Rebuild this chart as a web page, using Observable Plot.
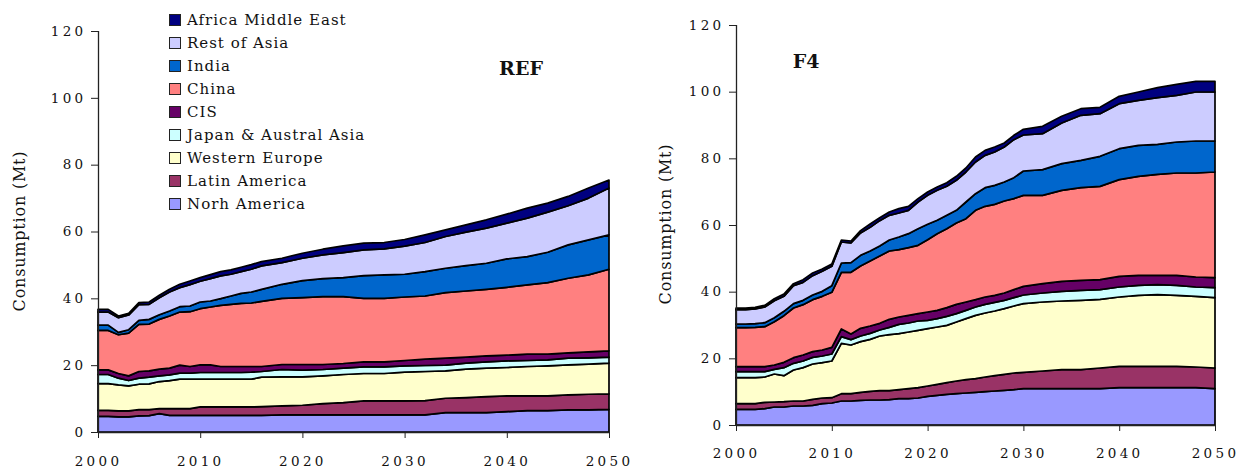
<!DOCTYPE html>
<html><head><meta charset="utf-8">
<script src="https://cdn.jsdelivr.net/npm/d3@7"></script>
<script src="https://cdn.jsdelivr.net/npm/@observablehq/plot@0.6"></script>
<style>
body{margin:0;background:#fff;width:1250px;height:471px;position:relative;overflow:hidden;font-family:"DejaVu Serif",serif;color:#111;}
.panel{position:absolute;top:0;}
.panel svg{overflow:visible;}
.ylab{position:absolute;white-space:nowrap;font-size:16px;letter-spacing:0.8px;transform:translate(-50%,-50%) rotate(-90deg);}
.title{position:absolute;font-weight:bold;font-size:19px;transform:translateX(-50%);}
#legend{position:absolute;left:169px;top:9px;font-size:15px;letter-spacing:1px;}
.row{height:22.9px;display:flex;align-items:center;white-space:nowrap;}
.sw{width:10px;height:10px;border:1px solid #222;margin-right:6px;}
g[aria-label$="tick label"] text{letter-spacing:3.3px;fill:#111;}
</style></head><body>
<div id="left" class="panel" style="left:0"></div>
<div id="right" class="panel" style="left:625px"></div>
<div class="ylab" style="left:19px;top:231px">Consumption (Mt)</div>
<div class="ylab" style="left:665px;top:224px">Consumption (Mt)</div>
<div class="title" style="left:521px;top:57px">REF</div>
<div class="title" style="left:806px;top:50px">F4</div>
<div id="legend"></div>
<script>
const seriesNames = ["Norh America","Latin America","Western Europe","Japan & Austral Asia","CIS","China","India","Rest of Asia","Africa Middle East"];
const seriesColors = ["#9999FF","#993366","#FFFFCC","#CCFFFF","#660066","#FF8080","#0066CC","#CCCCFF","#000080"];
const xTicks = [2000,2010,2020,2030,2040,2050];
const yTicks = [0,20,40,60,80,100,120];

// REF scenario
const refYears = [2000,2001,2002,2003,2004,2005,2006,2007,2008,2009,2010,2011,2012,2013,2014,2015,2016,2018,2020,2022,2024,2026,2028,2030,2032,2034,2036,2038,2040,2042,2044,2046,2048,2050];
const refNorthAmerica = [4.7,4.7,4.5,4.5,4.8,4.9,5.5,5.0,5.0,5.0,5.0,5.0,5.0,5.0,5.0,5.0,5.0,5.1,5.1,5.1,5.1,5.1,5.1,5.1,5.1,5.8,5.8,5.8,6.1,6.4,6.4,6.6,6.6,6.8];
const refLatinAmerica = [1.8,1.8,1.8,1.8,1.9,1.8,1.5,2.0,2.0,2.0,2.5,2.5,2.5,2.5,2.5,2.5,2.6,2.7,2.9,3.4,3.7,4.2,4.2,4.2,4.3,4.3,4.5,4.8,4.7,4.4,4.4,4.5,4.7,4.6];
const refWesternEurope = [8.0,8.0,7.8,7.5,7.6,7.7,8.1,8.4,8.8,8.8,8.3,8.3,8.3,8.3,8.3,8.3,8.8,8.7,8.5,8.3,8.4,8.2,8.2,8.6,8.7,8.2,8.5,8.5,8.5,8.8,9.0,9.0,9.0,9.2];
const refJapan = [2.7,2.7,2.0,1.6,1.8,2.0,1.7,1.7,1.8,1.8,2.0,2.0,2.0,2.0,2.0,2.1,1.7,2.2,2.0,1.9,1.9,2.0,2.0,1.9,1.8,1.7,1.8,1.9,2.0,1.8,1.8,2.0,1.9,1.8];
const refCIS = [1.4,1.4,1.4,1.4,2.0,1.9,2.0,2.0,2.4,2.0,2.3,2.3,1.8,1.8,1.8,1.7,1.5,1.5,1.7,1.5,1.4,1.5,1.5,1.6,1.9,2.1,1.8,1.8,1.7,1.9,1.7,1.6,1.8,1.9];
const refChina = [11.8,11.8,11.6,12.8,14.1,14.0,14.9,15.6,15.9,16.4,16.8,17.3,18.3,18.6,18.9,19.0,19.5,19.8,20.0,20.3,20.0,19.0,19.0,19.0,18.9,19.6,19.8,19.9,20.3,20.7,21.4,22.3,23.0,24.4];
const refIndia = [1.6,1.6,0.7,1.0,1.2,1.4,1.4,1.5,1.6,1.7,2.0,1.8,2.0,2.5,3.0,3.3,3.6,4.2,5.1,5.4,5.7,6.8,7.0,6.8,7.3,7.3,7.6,7.8,8.5,8.5,9.1,10.0,10.5,10.3];
const refRestOfAsia = [3.9,3.9,4.4,4.4,4.7,4.5,5.1,5.7,5.7,6.4,6.2,6.7,6.8,6.5,6.5,6.8,7.0,6.5,6.7,7.1,7.5,7.7,7.8,8.4,8.7,9.5,10.0,10.5,10.7,11.5,12.0,11.7,12.5,14.0];
const refAfricaME = [0.8,0.8,0.5,0.5,0.6,0.7,0.7,0.8,1.0,1.1,1.1,1.2,1.3,1.3,1.3,1.4,1.3,1.3,1.5,1.7,2.0,2.0,1.9,2.0,2.3,2.0,2.2,2.5,2.7,3.0,2.7,2.8,3.0,2.4];

// F4 scenario
const f4Years = [2000,2001,2002,2003,2004,2005,2006,2007,2008,2009,2010,2011,2012,2013,2014,2015,2016,2017,2018,2019,2020,2021,2022,2023,2024,2025,2026,2027,2028,2029,2030,2032,2034,2036,2038,2040,2042,2044,2046,2048,2050];
const f4NorthAmerica = [4.7,4.7,4.7,4.9,5.4,5.4,5.7,5.7,5.9,6.4,6.6,7.2,7.2,7.4,7.5,7.5,7.6,7.9,7.9,8.1,8.6,8.9,9.2,9.4,9.6,9.8,10.0,10.2,10.4,10.6,10.9,10.9,10.9,10.9,10.9,11.2,11.2,11.2,11.2,11.2,10.9];
const f4LatinAmerica = [1.7,1.7,1.7,1.9,1.5,1.6,1.5,1.5,1.8,1.7,1.6,2.2,2.2,2.4,2.6,2.8,2.7,2.7,3.0,3.1,3.1,3.3,3.5,3.8,4.0,4.1,4.4,4.6,4.8,5.0,4.9,5.3,5.7,5.7,6.2,6.4,6.4,6.4,6.4,6.2,6.2];
const f4WesternEurope = [7.8,7.8,7.8,7.6,8.4,7.8,9.3,10.0,10.6,10.6,11.0,15.1,14.6,15.2,15.6,16.4,16.8,16.8,17.0,17.2,17.2,17.2,17.2,17.7,18.3,19.0,19.2,19.4,19.7,20.1,20.6,20.7,20.6,20.8,20.6,20.8,21.3,21.5,21.3,21.2,21.1];
const f4Japan = [1.8,1.8,1.8,1.6,1.4,2.4,2.0,2.0,2.0,2.0,2.1,2.0,1.6,1.7,1.8,1.8,2.2,2.8,2.7,2.8,2.5,2.5,2.7,2.5,2.5,2.5,2.6,2.6,2.5,2.5,2.6,2.7,2.9,3.0,2.9,3.0,3.0,3.0,3.0,2.8,3.0];
const f4CIS = [1.5,1.5,1.5,1.5,1.3,1.6,1.7,1.8,1.7,1.8,2.0,2.3,1.7,2.3,2.2,2.0,2.4,2.2,2.3,2.2,2.5,2.5,2.6,2.8,2.5,2.2,2.2,2.1,2.2,2.4,2.6,2.8,3.0,3.0,3.0,3.2,3.0,2.8,3.0,3.0,3.0];
const f4China = [11.7,11.7,11.8,12.0,13.0,14.0,14.9,15.1,15.6,16.1,16.5,17.0,18.5,18.7,19.5,20.2,20.5,20.2,20.3,20.5,21.7,23.0,23.7,24.4,25.0,26.8,27.2,27.3,27.6,27.3,27.3,26.5,27.3,27.8,28.0,29.0,29.7,30.3,30.7,31.2,31.7];
const f4India = [1.1,1.1,1.1,1.2,1.2,1.3,1.3,1.3,1.4,1.5,2.0,2.8,2.9,3.2,3.0,3.0,3.3,3.8,4.2,5.0,4.6,4.0,4.0,3.8,5.0,5.0,5.6,5.7,5.7,6.3,7.3,7.7,8.0,8.2,9.0,9.3,9.3,9.0,9.3,9.6,9.3];
const f4RestOfAsia = [4.3,4.3,4.4,4.7,5.1,4.5,5.4,5.4,5.8,6.0,5.8,6.3,5.9,6.7,7.1,7.6,7.4,7.2,7.0,8.0,8.7,9.0,8.7,9.0,9.0,9.5,9.7,10.0,10.5,11.4,10.8,10.8,12.2,13.5,12.8,13.5,13.5,14.0,14.0,14.7,14.7];
const f4AfricaME = [0.5,0.5,0.5,0.5,0.6,0.7,0.6,0.8,0.8,0.7,0.7,0.6,0.6,0.7,1.0,0.9,1.0,1.3,1.2,1.0,1.0,1.0,1.1,1.2,1.2,1.5,1.5,1.5,1.2,1.3,1.7,2.2,2.0,2.0,1.9,2.2,2.5,3.0,3.3,3.2,3.2];

function tidy(years, arrays) {
  const out = [];
  seriesNames.forEach((s, i) => years.forEach((y, j) => out.push({year: y, series: s, value: arrays[i][j]})));
  return out;
}

function panel(data, m) {
  return Plot.plot({
    width: 625, height: 471,
    marginLeft: m.l, marginRight: m.r, marginTop: m.t, marginBottom: m.b,
    style: {fontFamily: "DejaVu Serif, serif", fontSize: "13.5px", background: "transparent", color: "#222", overflow: "visible"},
    x: {domain: [2000, 2050], label: null},
    y: {domain: [0, 120], label: null},
    color: {domain: seriesNames, range: seriesColors},
    marks: [
      Plot.areaY(data, {x: "year", y: "value", z: "series", fill: "series", order: seriesNames,
        stroke: "#000", strokeWidth: 1.7, strokeLinejoin: "round"}),
      Plot.ruleX([2000], {stroke: "#222", strokeWidth: 1.3}),
      Plot.ruleY([0], {stroke: "#222", strokeWidth: 1.3}),
      Plot.axisX({ticks: xTicks, tickFormat: d => String(d), tickSize: 6, tickPadding: m.xp, label: null, stroke: "#222"}),
      Plot.axisY({ticks: yTicks, tickSize: 7, tickPadding: 5, label: null, stroke: "#222"})
    ]
  });
}

const refData = tidy(refYears, [refNorthAmerica, refLatinAmerica, refWesternEurope, refJapan, refCIS, refChina, refIndia, refRestOfAsia, refAfricaME]);
const f4Data = tidy(f4Years, [f4NorthAmerica, f4LatinAmerica, f4WesternEurope, f4Japan, f4CIS, f4China, f4India, f4RestOfAsia, f4AfricaME]);

document.getElementById("left").append(panel(refData, {l: 98, r: 16, t: 31, b: 39, xp: 18}));
document.getElementById("right").append(panel(f4Data, {l: 111, r: 35, t: 25, b: 46, xp: 17}));

const legend = document.getElementById("legend");
seriesNames.slice().reverse().forEach(name => {
  const i = seriesNames.indexOf(name);
  const row = document.createElement("div");
  row.className = "row";
  const sw = document.createElement("div");
  sw.className = "sw";
  sw.style.background = seriesColors[i];
  const t = document.createElement("span");
  t.textContent = name;
  row.append(sw, t);
  legend.append(row);
});
</script>
</body></html>
